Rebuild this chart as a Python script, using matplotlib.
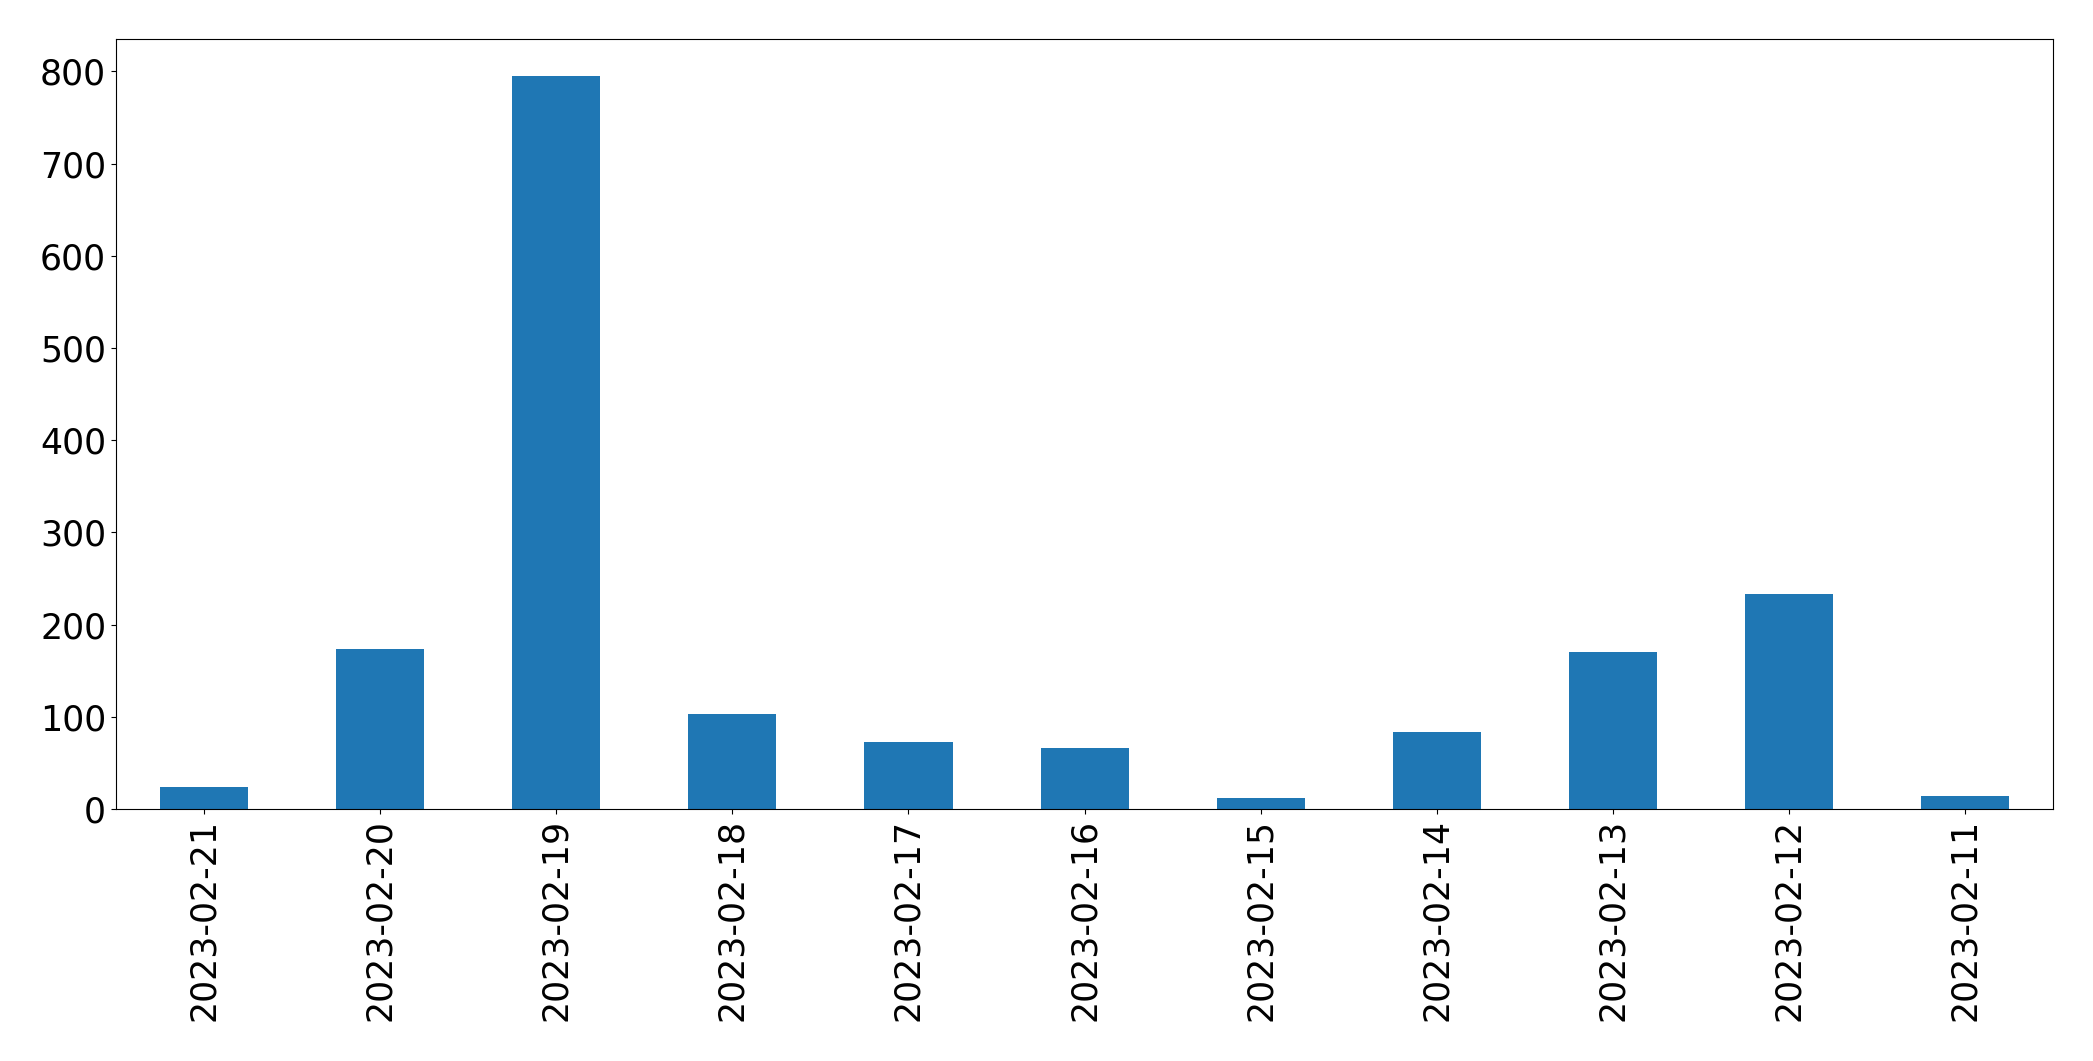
import matplotlib
matplotlib.use('Agg')
import matplotlib.pyplot as plt

# ============================================================================
# DATA
# ============================================================================

dates = ['2023-02-21', '2023-02-20', '2023-02-19', '2023-02-18', '2023-02-17',
         '2023-02-16', '2023-02-15', '2023-02-14', '2023-02-13', '2023-02-12',
         '2023-02-11']
counts = [24, 174, 795, 103, 73, 66, 12, 83, 170, 233, 14]

# ============================================================================
# PLOT
# ============================================================================

fig, ax = plt.subplots(figsize=(20.93, 10.61), dpi=100)
fig.subplots_adjust(left=0.0554, right=0.981, top=0.963, bottom=0.2375)

x = range(len(dates))
ax.bar(x, counts, width=0.5, color='#1f77b4')
ax.set_xticks(list(x))
ax.set_xticklabels(dates, rotation=90)
ax.set_xlim(-0.5, len(dates) - 0.5)
ax.set_ylim(0, max(counts) * 1.05)
ax.tick_params(axis='both', labelsize=25)

plt.savefig('out.png', dpi=100)
plt.close()
